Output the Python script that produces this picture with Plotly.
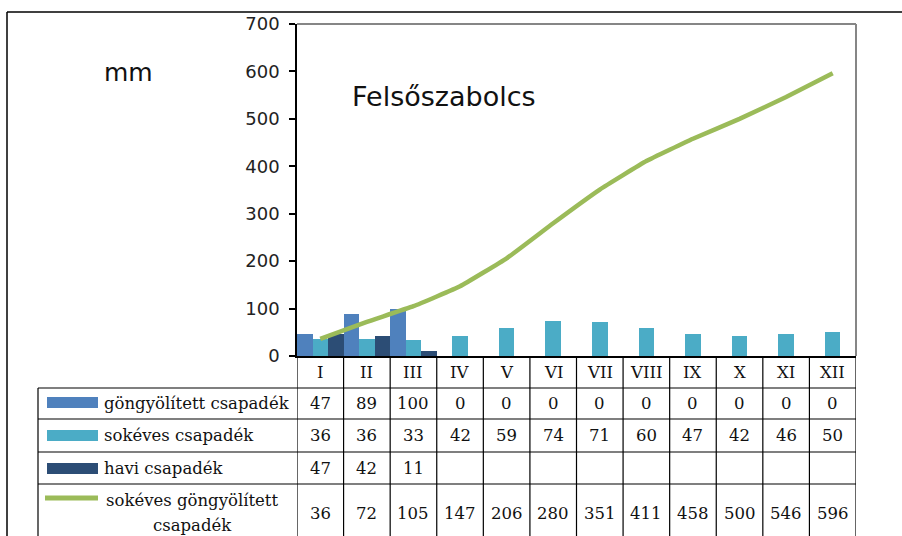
import plotly.graph_objects as go

months = ["I", "II", "III", "IV", "V", "VI", "VII", "VIII", "IX", "X", "XI", "XII"]
gongyolitett = [47, 89, 100, 0, 0, 0, 0, 0, 0, 0, 0, 0]
sokeves = [36, 36, 33, 42, 59, 74, 71, 60, 47, 42, 46, 50]
havi = [47, 42, 11, None, None, None, None, None, None, None, None, None]
sokeves_gongy = [36, 72, 105, 147, 206, 280, 351, 411, 458, 500, 546, 596]

series_names = ["göngyölített csapadék", "sokéves csapadék", "havi csapadék", "sokéves göngyölített csapadék"]
colors = ["#4F81BD", "#4BACC6", "#2C4D75", "#9BBB59"]

W, H = 902, 536
PL, PR, PT, PB = 297, 856, 24, 356  # plot area in pixels


def px(x):
    return (x - PL) / (PR - PL)


def py(y):
    return (PB - y) / (PB - PT)


fig = go.Figure()
fig.add_trace(go.Bar(x=months, y=gongyolitett, name=series_names[0], marker=dict(color=colors[0], line=dict(width=0))))
fig.add_trace(go.Bar(x=months, y=sokeves, name=series_names[1], marker=dict(color=colors[1], line=dict(width=0))))
fig.add_trace(go.Bar(x=months, y=havi, name=series_names[2], marker=dict(color=colors[2], line=dict(width=0))))
fig.add_trace(go.Scatter(x=months, y=sokeves_gongy, name=series_names[3], mode="lines",
                         line=dict(color=colors[3], width=4.5, shape="spline", smoothing=0.3)))

shapes = []
black = "#000000"
# outer frame
shapes.append(dict(type="line", xref="paper", yref="paper", x0=px(7), x1=px(905), y0=py(12), y1=py(12),
                   line=dict(color=black, width=1.5)))
shapes.append(dict(type="line", xref="paper", yref="paper", x0=px(7), x1=px(7), y0=py(12), y1=py(545),
                   line=dict(color=black, width=1.5)))
# plot border (top / right) in gray
shapes.append(dict(type="line", xref="paper", yref="paper", x0=0, x1=1, y0=1, y1=1,
                   line=dict(color="#868686", width=2)))
shapes.append(dict(type="line", xref="paper", yref="paper", x0=1, x1=1, y0=0, y1=1,
                   line=dict(color="#868686", width=2)))

# table grid
row_lines = [388, 419, 452, 484]
for yl in row_lines:
    shapes.append(dict(type="line", xref="paper", yref="paper", x0=px(38), x1=1, y0=py(yl), y1=py(yl),
                       line=dict(color=black, width=1.2)))
bottom = 560
shapes.append(dict(type="line", xref="paper", yref="paper", x0=px(38), x1=px(38), y0=py(388), y1=py(bottom),
                   line=dict(color=black, width=1.2)))
for i in range(len(months) + 1):
    shapes.append(dict(type="line", xref="x", yref="paper", x0=i - 0.5, x1=i - 0.5, y0=0, y1=py(bottom),
                       line=dict(color=black, width=1.2)))

# legend keys
key_rows = [(397, 408), (430, 441), (463, 474)]
for (y0, y1), c in zip(key_rows, colors[:3]):
    shapes.append(dict(type="rect", xref="paper", yref="paper", x0=px(47), x1=px(98), y0=py(y1), y1=py(y0),
                       fillcolor=c, line=dict(width=0)))
shapes.append(dict(type="line", xref="paper", yref="paper", x0=px(45), x1=px(98), y0=py(498), y1=py(498),
                   line=dict(color=colors[3], width=5)))

annotations = []
serif = dict(family="DejaVu Serif", size=16.5, color="#111111")
# category labels
for m in months:
    annotations.append(dict(x=m, xref="x", y=py(372), yref="paper", text=m, showarrow=False,
                            xanchor="center", yanchor="middle", font=serif))
# table values
row_centers = [403.5, 435.5, 468, 513]
for vals, yc in zip([gongyolitett, sokeves, havi, sokeves_gongy], row_centers):
    for m, v in zip(months, vals):
        if v is None:
            continue
        annotations.append(dict(x=m, xref="x", y=py(yc), yref="paper", text=str(v), showarrow=False,
                                xanchor="center", yanchor="middle", font=serif))
# legend labels
for name, yc in zip(series_names[:3], row_centers[:3]):
    annotations.append(dict(x=px(102), xref="paper", y=py(yc), yref="paper", text=name, showarrow=False,
                            xanchor="left", yanchor="middle", font=serif))
annotations.append(dict(x=px(192), xref="paper", y=py(500), yref="paper", text="sokéves göngyölített",
                        showarrow=False, xanchor="center", yanchor="middle", font=serif))
annotations.append(dict(x=px(192), xref="paper", y=py(525), yref="paper", text="csapadék",
                        showarrow=False, xanchor="center", yanchor="middle", font=serif))
# unit and title
annotations.append(dict(x=px(129), xref="paper", y=py(72), yref="paper", text="mm", showarrow=False,
                        xanchor="center", yanchor="middle",
                        font=dict(family="DejaVu Sans", size=25, color="#111111")))
annotations.append(dict(x=px(444), xref="paper", y=py(97), yref="paper", text="Felsőszabolcs", showarrow=False,
                        xanchor="center", yanchor="middle",
                        font=dict(family="DejaVu Sans", size=27, color="#111111")))

fig.update_layout(
    width=W, height=H,
    margin=dict(l=PL, r=W - PR, t=PT, b=H - PB, autoexpand=False),
    paper_bgcolor="white", plot_bgcolor="white",
    barmode="group", bargap=0, bargroupgap=0,
    showlegend=False,
    shapes=shapes, annotations=annotations,
    xaxis=dict(type="category", range=[-0.5, 11.5], showticklabels=False, ticks="",
               showline=True, linecolor=black, linewidth=1.5, showgrid=False, zeroline=False, fixedrange=True),
    yaxis=dict(range=[0, 700], dtick=100, tick0=0, ticks="outside", ticklen=6, tickcolor=black, tickwidth=1.5,
               showline=True, linecolor=black, linewidth=1.5, showgrid=False, zeroline=False,
               tickfont=dict(family="DejaVu Sans", size=18, color="#222222"), ticklabelstandoff=6),
)

fig.write_html("out.html", config={"displayModeBar": False},
               post_script="document.body.style.margin='0';document.body.style.overflow='hidden';")
